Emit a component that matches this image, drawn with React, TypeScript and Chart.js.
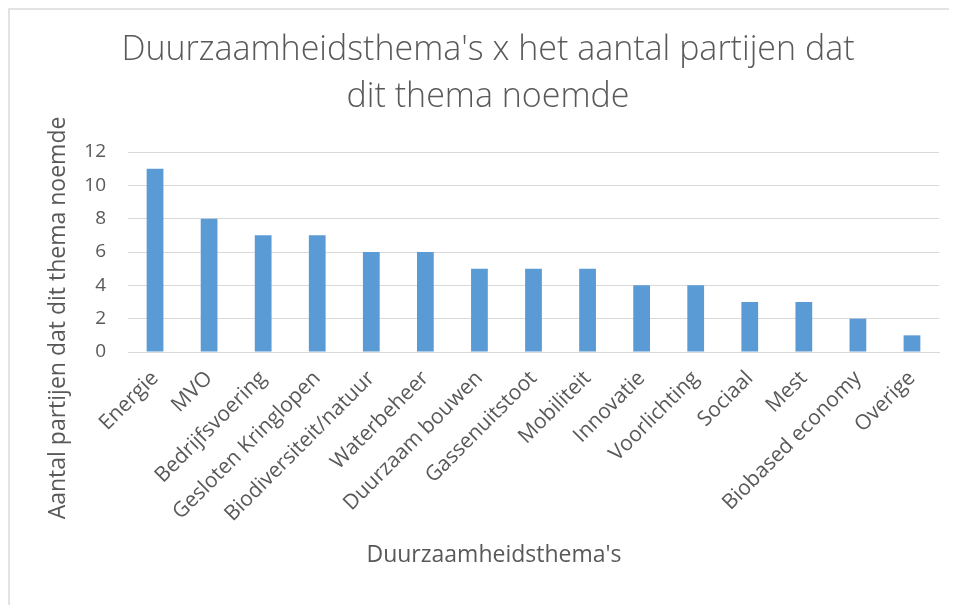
import React, { useEffect, useRef } from "react";
import { Chart, registerables } from "chart.js";

Chart.register(...registerables);

const categories = [
  "Energie",
  "MVO",
  "Bedrijfsvoering",
  "Gesloten Kringlopen",
  "Biodiversiteit/natuur",
  "Waterbeheer",
  "Duurzaam bouwen",
  "Gassenuitstoot",
  "Mobiliteit",
  "Innovatie",
  "Voorlichting",
  "Sociaal",
  "Mest",
  "Biobased economy",
  "Overige",
];
const values = [11, 8, 7, 7, 6, 6, 5, 5, 5, 4, 4, 3, 3, 2, 1];
const titleLines = ["Duurzaamheidsthema's x het aantal partijen dat", "dit thema noemde"];
const yTitle = "Aantal partijen dat dit thema noemde";
const xTitle = "Duurzaamheidsthema's";

const FONT = "'Open Sans', Lato, sans-serif";
const GREY = "#595959";

const axisTitles = {
  id: "axisTitles",
  afterDraw(chart: any) {
    const { ctx, chartArea } = chart;
    ctx.save();
    ctx.fillStyle = GREY;
    ctx.textAlign = "center";
    ctx.textBaseline = "middle";
    // y title
    ctx.font = `23px ${FONT}`;
    ctx.save();
    ctx.translate(chartArea.left - 70, chartArea.bottom - 34);
    ctx.rotate(-Math.PI / 2);
    ctx.fillText(yTitle, 0, 0);
    ctx.restore();
    // x title
    ctx.font = `23px ${FONT}`;
    ctx.fillText(xTitle, chartArea.left + 366, chartArea.bottom + 203);
    ctx.restore();
  },
};

export default function App() {
  const ref = useRef<HTMLCanvasElement>(null);
  useEffect(() => {
    if (!ref.current) return;
    const chart = new Chart(ref.current, {
      type: "bar",
      data: {
        labels: categories,
        datasets: [
          {
            data: values,
            backgroundColor: "#5b9bd5",
            borderWidth: 0,
            categoryPercentage: 1,
            barPercentage: 0.31,
          },
        ],
      },
      options: {
        animation: false,
        responsive: false,
        layout: { padding: { left: 27, right: 18, top: 0, bottom: 0 } },
        plugins: {
          legend: { display: false },
          tooltip: { enabled: false },
          title: {
            display: true,
            text: titleLines,
            color: GREY,
            font: { family: FONT, size: 34, weight: "300", lineHeight: 47 / 34 },
            padding: { top: 16.5, bottom: 31.5 },
          },
        },
        scales: {
          x: {
            grid: { display: false, drawTicks: false },
            border: { display: true, color: "#d9d9d9" },
            ticks: {
              autoSkip: false,
              maxRotation: 45,
              minRotation: 45,
              color: GREY,
              font: { family: FONT, size: 21 },
              padding: 14,
            },
            afterFit(scale: any) {
              scale.height = 253;
            },
          },
          y: {
            min: 0,
            max: 12,
            ticks: {
              stepSize: 2,
              color: GREY,
              font: { family: FONT, size: 19 },
              padding: 22,
            },
            grid: { color: "#d9d9d9", drawTicks: false },
            border: { display: false },
            afterFit(scale: any) {
              scale.width = 91;
            },
          },
        },
      },
      plugins: [axisTitles],
    });
    return () => chart.destroy();
  }, []);
  return (
    <div
      style={{
        width: 947,
        height: 595,
        borderTop: "2px solid #e3e3e3",
        borderLeft: "2px solid #e3e3e3",
        background: "#fff",
      }}
    >
      <canvas ref={ref} width={947} height={595} style={{ display: "block" }} />
    </div>
  );
}
